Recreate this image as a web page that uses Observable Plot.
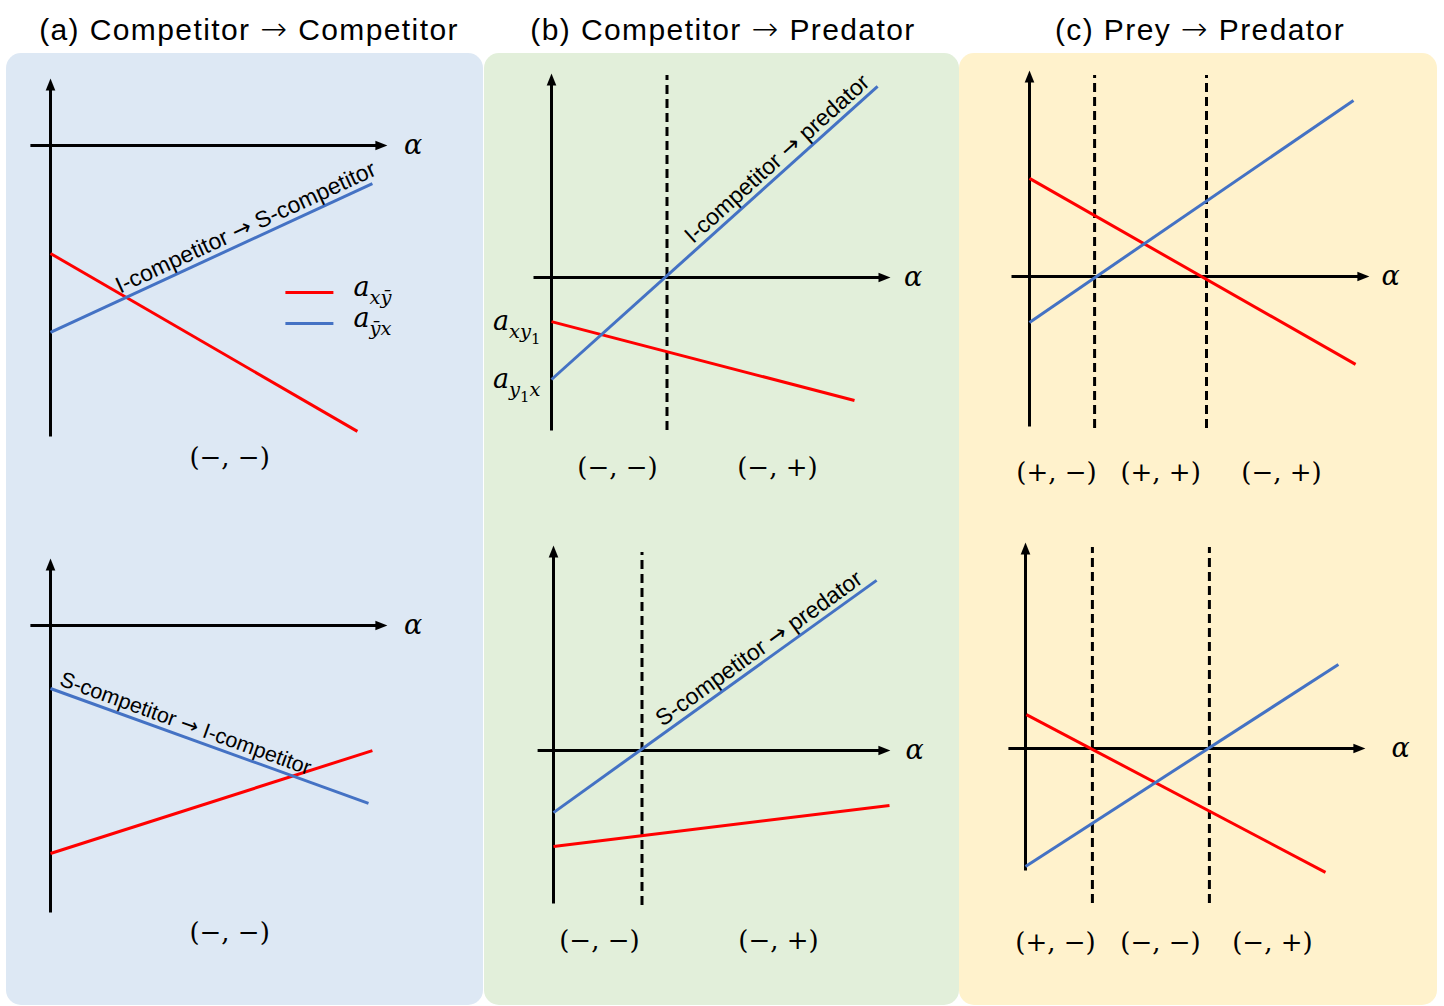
<!DOCTYPE html>
<html>
<head>
<meta charset="utf-8">
<script src="https://cdn.jsdelivr.net/npm/d3@7"></script>
<script src="https://cdn.jsdelivr.net/npm/@observablehq/plot@0.6"></script>
<style>
  body { margin: 0; background: #fff; }
  #fig { position: relative; width: 1444px; height: 1006px; overflow: hidden; }
  .panel { position: absolute; top: 53px; height: 952px; border-radius: 15px; }
  .title { position: absolute; top: 14px; width: 600px; text-align: center; white-space: nowrap;
           font-family: "Liberation Sans", Arial, Helvetica, sans-serif; font-size: 30px; line-height: 30px;
           letter-spacing: 1.4px; color: #000; }
  .title .arrow { font-family: "DejaVu Sans", sans-serif; font-size: 32px; font-weight: lighter; }
  .sub { position: absolute; }
  .sub svg { overflow: visible; }
</style>
</head>
<body>
<div id="fig"></div>
<script>
// ---------- data ----------
// Column titles and background tints
const panelTitles = ["(a) Competitor \u2192 Competitor", "(b) Competitor \u2192 Predator", "(c) Prey \u2192 Predator"];
const panelFills = ["#dde8f4", "#e2efda", "#fff2cc"];

// Interaction coefficients as straight lines over α: [α, coefficient] at each end.
// red = effect of the focal species on its partner, blue = the reverse effect.
const a1Red  = [[0, -3.6],  [10.23, -9.53]];
const a1Blue = [[0, -6.23], [10.73, -1.27]];
const a2Red  = [[0, -7.6],  [10.73, -4.17]];
const a2Blue = [[0, -2.1],  [10.6, -5.93]];
const b1Red  = [[0, -1.47], [10.1, -4.1]];
const b1Blue = [[0, -3.4],  [10.87, 6.37]];
const b2Red  = [[0, -3.2],  [11.2, -1.83]];
const b2Blue = [[0, -2.07], [10.77, 5.67]];
const c1Red  = [[0, 3.27],  [10.87, -2.93]];
const c1Blue = [[0, -1.53], [10.8, 5.87]];
const c2Red  = [[0.03, 1.13], [10.0, -4.13]];
const c2Blue = [[0, -3.93], [10.43, 2.8]];

// α values where a coefficient changes sign (dashed)
const b1Switch = [3.85];
const b2Switch = [2.95];
const c1Switch = [2.17, 5.9];
const c2Switch = [2.23, 6.13];

// Sign pattern of each α range, and the α it is written at
const a1Signs = ["(\u2212, \u2212)"];                         const a1SignAt = [5.97];
const a2Signs = ["(\u2212, \u2212)"];                         const a2SignAt = [5.97];
const b1Signs = ["(\u2212, \u2212)", "(\u2212, +)"];          const b1SignAt = [2.2, 7.53];
const b2Signs = ["(\u2212, \u2212)", "(\u2212, +)"];          const b2SignAt = [1.53, 7.5];
const c1Signs = ["(+, \u2212)", "(+, +)", "(\u2212, +)"];     const c1SignAt = [0.9, 4.37, 8.4];
const c2Signs = ["(+, \u2212)", "(\u2212, \u2212)", "(\u2212, +)"]; const c2SignAt = [1.0, 4.5, 8.23];

// Role transitions written along the blue line, and the α where each starts
const a1Note = "I-competitor \u2192 S-competitor"; const a1NoteAt = 2.4;
const a2Note = "S-competitor \u2192 I-competitor"; const a2NoteAt = 0.2;
const b1Note = "I-competitor \u2192 predator";     const b1NoteAt = 4.85;
const b2Note = "S-competitor \u2192 predator";     const b2NoteAt = 3.75;

// Coefficient symbols (subscripts in _{ })
const legendSymbols = ["a_{x\u0233}", "a_{\u0233x}"];
const b1Symbols = ["a_{xy_{1}}", "a_{y_{1}x}"];

// ---------- drawing ----------
const U = 30; // pixels per unit on both axes
const RED = "#ff0000", BLUE = "#4472c4";
const sansFont = "'Liberation Sans', Arial, Helvetica, sans-serif";
const mathFont = "'DejaVu Serif', 'Liberation Serif', serif";
const arrowFont = "'DejaVu Sans', sans-serif";
const MATH_SIZE = 27;
const SVG_NS = "http://www.w3.org/2000/svg";

const slope = seg => (seg[1][1] - seg[0][1]) / (seg[1][0] - seg[0][0]);
const valueAt = (seg, a) => seg[0][1] + slope(seg) * (a - seg[0][0]);

// filled triangular arrow head with its tip at the anchor, pointing up
const arrowHead = {
  draw(context) {
    context.moveTo(0, 0);
    context.lineTo(4.8, 12);
    context.lineTo(-4.8, 12);
    context.closePath();
  }
};

// turn "a_{xy_{1}}" into tspans with nested subscripts; set "→" in a font with a full-width arrow
function typeset(svg, base) {
  svg.querySelectorAll("text").forEach(t => {
    const src = t.textContent;
    if (src.includes("_{")) {
      const runs = [];
      let level = 0, buf = "";
      for (let i = 0; i < src.length; i++) {
        if (src[i] === "_" && src[i + 1] === "{") { if (buf) runs.push({s: buf, level}); buf = ""; level++; i++; }
        else if (src[i] === "}") { if (buf) runs.push({s: buf, level}); buf = ""; level--; }
        else buf += src[i];
      }
      if (buf) runs.push({s: buf, level});
      t.textContent = "";
      let prev = 0;
      for (const r of runs) {
        const shift = [0, 0.3, 0.5][r.level] * base;
        const ts = document.createElementNS(SVG_NS, "tspan");
        ts.setAttribute("dy", (shift - prev).toFixed(2));
        prev = shift;
        ts.setAttribute("font-size", (base * [1, 0.72, 0.55][r.level]).toFixed(2));
        if (/^\d+$/.test(r.s)) ts.setAttribute("font-style", "normal");
        ts.textContent = r.s;
        t.appendChild(ts);
      }
    } else if (src.includes("\u2192")) {
      const parts = src.split("\u2192");
      t.textContent = "";
      parts.forEach((p, i) => {
        if (i > 0) {
          const a = document.createElementNS(SVG_NS, "tspan");
          a.setAttribute("font-family", arrowFont);
          a.textContent = "\u2192";
          t.appendChild(a);
        }
        const s = document.createElementNS(SVG_NS, "tspan");
        s.textContent = p;
        t.appendChild(s);
      });
    }
  });
}

function subplot(cfg) {
  const {left, top, width, height, ox, oy, xAxis, yAxis, dash, red, blue, switches,
         signs, signAt, signY, note, noteAt, noteSize, alphaGap, extra} = cfg;
  const lx = ox - left, ly = oy - top;
  const head = 0.33;
  const marks = [];

  if (switches && switches.length) {
    marks.push(Plot.ruleX(switches, {y1: () => dash[0], y2: () => dash[1], stroke: "black",
      strokeWidth: 3, strokeDasharray: "9,5"}));
  }
  // axes with arrow heads
  marks.push(Plot.link([0], {x1: () => xAxis[0], x2: () => xAxis[1] - head, y1: () => 0, y2: () => 0,
    stroke: "black", strokeWidth: 3}));
  marks.push(Plot.link([0], {x1: () => 0, x2: () => 0, y1: () => yAxis[0], y2: () => yAxis[1] - head,
    stroke: "black", strokeWidth: 3}));
  marks.push(Plot.dot([0], {x: () => xAxis[1], y: () => 0, symbol: arrowHead, rotate: 90, fill: "black"}));
  marks.push(Plot.dot([0], {x: () => 0, y: () => yAxis[1], symbol: arrowHead, rotate: 0, fill: "black"}));

  // coefficient lines
  marks.push(Plot.line(red, {x: d => d[0], y: d => d[1], stroke: RED, strokeWidth: 3, strokeLinecap: "butt"}));
  marks.push(Plot.line(blue, {x: d => d[0], y: d => d[1], stroke: BLUE, strokeWidth: 3, strokeLinecap: "butt"}));

  // label along the blue line
  if (note) {
    const th = Math.atan(slope(blue));
    const off = 0.2;
    const px = noteAt - Math.sin(th) * off;
    const py = valueAt(blue, noteAt) + Math.cos(th) * off;
    marks.push(Plot.text([note], {x: () => px, y: () => py, text: d => d, rotate: -th * 180 / Math.PI,
      textAnchor: "start", lineAnchor: "bottom", fontSize: noteSize, fontFamily: sansFont, fill: "black"}));
  }

  // α label
  marks.push(Plot.text(["\u03b1"], {x: () => xAxis[1] + alphaGap, y: () => 0, text: d => d,
    textAnchor: "start", fontStyle: "italic", fontFamily: mathFont, fontSize: 27, fill: "black"}));

  // sign patterns
  marks.push(Plot.text(signs, {x: (d, i) => signAt[i], y: () => signY, text: d => d,
    fontFamily: mathFont, fontSize: 26, fill: "black"}));

  if (extra) marks.push(...extra);

  const svg = Plot.plot({
    width, height, margin: 0,
    x: {domain: [-lx / U, (width - lx) / U], range: [0, width], axis: null},
    y: {domain: [(ly - height) / U, ly / U], range: [height, 0], axis: null},
    style: {background: "none", overflow: "visible"},
    marks
  });
  typeset(svg, MATH_SIZE);

  const holder = document.createElement("div");
  holder.className = "sub";
  Object.assign(holder.style, {left: left + "px", top: top + "px", width: width + "px", height: height + "px"});
  holder.appendChild(svg);
  return holder;
}

const fig = document.getElementById("fig");

// column backgrounds and titles
const panelBoxes = [[6, 477], [484, 475], [959, 478]];
const titleCenters = [249, 723, 1200];
panelBoxes.forEach(([l, w], i) => {
  const p = document.createElement("div");
  p.className = "panel";
  Object.assign(p.style, {left: l + "px", width: w + "px", background: panelFills[i]});
  fig.appendChild(p);
  const t = document.createElement("div");
  t.className = "title";
  t.style.left = (titleCenters[i] - 300) + "px";
  const [before, after] = panelTitles[i].split("\u2192");
  const arrow = document.createElement("span");
  arrow.className = "arrow";
  arrow.textContent = "\u2192";
  t.append(before, arrow, after);
  fig.appendChild(t);
});

const mathText = (opts) => ({fontFamily: mathFont, fontStyle: "italic", fontSize: MATH_SIZE, fill: "black", ...opts});

// legend of the first chart
const legendRows = [-4.9, -5.93];
const legendMarks = [
  Plot.link(legendRows, {x1: () => 7.83, x2: () => 9.43, y1: d => d, y2: d => d,
    stroke: (d, i) => [RED, BLUE][i], strokeWidth: 3}),
  Plot.text(legendSymbols, mathText({x: () => 10.1, y: (d, i) => legendRows[i] + 0.17, text: d => d, textAnchor: "start"}))
];
// coefficient names at the start of the lines in (b)
const b1Marks = [
  Plot.text(b1Symbols, mathText({x: () => -0.37, y: (d, i) => [b1Red, b1Blue][i][0][1], text: d => d, textAnchor: "end"}))
];

const charts = [
  {left: 6, top: 53, width: 477, height: 447, ox: 50, oy: 145, xAxis: [-0.67, 11.23], yAxis: [-9.7, 2.23],
   red: a1Red, blue: a1Blue, signs: a1Signs, signAt: a1SignAt, signY: -10.4, note: a1Note, noteAt: a1NoteAt,
   noteSize: 23, alphaGap: 0.55, extra: legendMarks},
  {left: 6, top: 500, width: 477, height: 505, ox: 50, oy: 625, xAxis: [-0.67, 11.23], yAxis: [-9.57, 2.23],
   red: a2Red, blue: a2Blue, signs: a2Signs, signAt: a2SignAt, signY: -10.23, note: a2Note, noteAt: a2NoteAt,
   noteSize: 21.5, alphaGap: 0.55},
  {left: 484, top: 53, width: 475, height: 447, ox: 551, oy: 277, xAxis: [-0.6, 11.3], yAxis: [-5.1, 6.8],
   dash: [-5.1, 6.73], red: b1Red, blue: b1Blue, switches: b1Switch, signs: b1Signs, signAt: b1SignAt,
   signY: -6.33, note: b1Note, noteAt: b1NoteAt, noteSize: 23, alphaGap: 0.45, extra: b1Marks},
  {left: 484, top: 500, width: 475, height: 505, ox: 553, oy: 750, xAxis: [-0.53, 11.23], yAxis: [-5.1, 6.83],
   dash: [-5.17, 6.6], red: b2Red, blue: b2Blue, switches: b2Switch, signs: b2Signs, signAt: b2SignAt,
   signY: -6.33, note: b2Note, noteAt: b2NoteAt, noteSize: 23, alphaGap: 0.5},
  {left: 959, top: 53, width: 478, height: 447, ox: 1029, oy: 276, xAxis: [-0.6, 11.33], yAxis: [-5.0, 6.87],
   dash: [-5.07, 6.7], red: c1Red, blue: c1Blue, switches: c1Switch, signs: c1Signs, signAt: c1SignAt,
   signY: -6.53, alphaGap: 0.4},
  {left: 959, top: 500, width: 478, height: 505, ox: 1025, oy: 748, xAxis: [-0.57, 11.33], yAxis: [-4.07, 6.87],
   dash: [-5.17, 6.7], red: c2Red, blue: c2Blue, switches: c2Switch, signs: c2Signs, signAt: c2SignAt,
   signY: -6.47, alphaGap: 0.87}
];

charts.forEach(c => fig.appendChild(subplot(c)));
</script>
</body>
</html>
